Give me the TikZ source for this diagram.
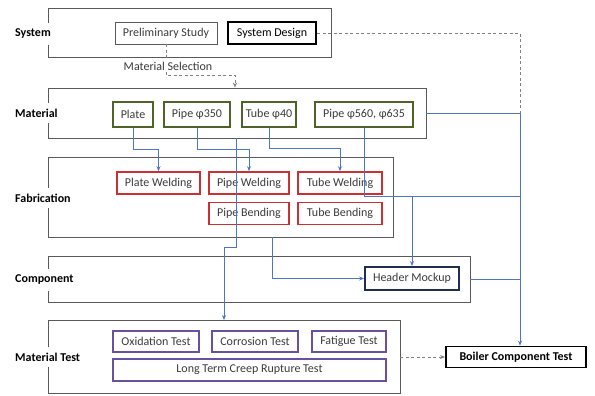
\documentclass[tikz,border=0pt]{standalone}
\usepackage{fontspec}
\setmainfont{Carlito}
\usetikzlibrary{arrows.meta, positioning}
\definecolor{stageGray}{HTML}{5A5A5A}
\definecolor{matGreen}{HTML}{4F6228}
\definecolor{fabRed}{HTML}{CC3030}
\definecolor{testPurple}{HTML}{6A50A0}
\definecolor{hdrNavy}{HTML}{1F2E4E}
\definecolor{flowBlue}{HTML}{4A78C4}
\definecolor{dashGray}{HTML}{808080}
\definecolor{textGray}{HTML}{3A3A3A}

\begin{document}
\begin{tikzpicture}[
  x=1pt, y=-1pt,
  font=\fontsize{12}{14}\selectfont,
  stage/.style={draw=stageGray, line width=0.8pt},
  stagelabel/.style={fill=white, font=\fontsize{12}{14}\selectfont\bfseries,
               anchor=west, inner xsep=2pt, inner ysep=6pt},
  itembox/.style={line width=1.6pt, text=textGray, inner sep=2pt, minimum height=22pt},
  sysbox/.style={itembox, draw=stageGray, line width=0.8pt},
  keybox/.style={itembox, draw=black, line width=2pt, text=black},
  matbox/.style={itembox, draw=matGreen, minimum height=25pt},
  fabbox/.style={itembox, draw=fabRed, minimum width=82pt},
  testbox/.style={itembox, draw=testPurple, minimum height=21pt},
  flow/.style={-{Stealth[length=5pt, width=4pt]}, flowBlue, line width=0.9pt},
  blueline/.style={flowBlue, line width=0.9pt},
  dashline/.style={dashGray, dash pattern=on 3pt off 2.5pt, line width=0.9pt},
  dashflow/.style={dashline, -{Stealth[length=5pt, width=4pt]}}
]
  \useasboundingbox (0,0) rectangle (595,396);

  % stages
  \node[stage, minimum width=283pt, minimum height=49pt] (sysStage) at (189.5,32.5) {};
  \node[stage, minimum width=378pt, minimum height=50pt] (matStage) at (237,113) {};
  \node[stage, minimum width=345pt, minimum height=80pt] (fabStage) at (220.5,197) {};
  \node[stage, minimum width=422pt, minimum height=46pt] (compStage) at (259,279) {};
  \node[stage, minimum width=352pt, minimum height=73pt] (testStage) at (224,356.5) {};

  \node[stagelabel] (sysLbl) at (13,34) {System};
  \node[stagelabel] (matLbl) at (13,113) {Material};
  \node[stagelabel] (fabLbl) at (13,198) {Fabrication};
  \node[stagelabel] (compLbl) at (13,280) {Component};
  \node[stagelabel] (testLbl) at (13,357) {Material Test};

  % system
  \node[sysbox, minimum width=102pt] (prelim) at (166,33) {Preliminary Study};
  \node[keybox, minimum width=88pt] (sysDesign) at (272,33.5) {System Design};

  % material
  \node[matbox, minimum width=40pt] (plate) at (133,114.5) {Plate};
  \node[matbox, minimum width=66pt] (pipeA) at (197,114.5) {Pipe φ350};
  \node[matbox, minimum width=54pt] (tube) at (269,114.5) {Tube φ40};
  \node[matbox, minimum width=98pt] (pipeB) at (364,114.5) {Pipe φ560, φ635};

  % fabrication
  \node[fabbox, minimum width=83pt] (plateW) at (158.5,183) {Plate Welding};
  \node[fabbox, minimum width=80pt] (pipeW) at (249,183) {Pipe Welding};
  \node[fabbox, minimum width=80pt, below=7pt of pipeW] (pipeBend) {Pipe Bending};
  \node[fabbox, minimum width=84pt] (tubeW) at (340,183) {Tube Welding};
  \node[fabbox, minimum width=84pt, below=7pt of tubeW] (tubeBend) {Tube Bending};

  % component
  \node[itembox, draw=hdrNavy, line width=1.8pt, minimum width=94pt, minimum height=23pt] (header) at (412,278.5) {Header Mockup};

  % material test
  \node[testbox, minimum width=86pt] (oxid) at (156,341.5) {Oxidation Test};
  \node[testbox, minimum width=86pt] (corr) at (255,341.5) {Corrosion Test};
  \node[testbox, minimum width=74pt] (fatig) at (349,341.5) {Fatigue Test};
  \node[testbox, minimum width=273pt, minimum height=22pt] (creep) at (249.5,370) {Long Term Creep Rupture Test};

  \node[keybox, line width=1.8pt, minimum width=140pt, minimum height=21pt,
        font=\fontsize{12}{14}\selectfont\bfseries] (boiler) at (516,357) {Boiler Component Test};

  % helper points
  \coordinate (selTurn) at (235,75);
  \coordinate (trunk) at (520,113);
  \coordinate (hdrSplit) at (412,196);
  \coordinate (matOut) at (236,138);
  \coordinate (testIn) at (224,320);
  \coordinate (fabOut) at (272,237);

  % connectors
  \draw[dashflow] (prelim.south) |- (selTurn) -- (selTurn |- matStage.north);
  \node[fill=white, inner sep=1pt, text=textGray] (selLbl) at (168,66) {Material Selection};
  \draw[dashline] (sysDesign.east) -| (trunk);

  \draw[flow] (matStage.east) -- (trunk) -- (trunk |- boiler.north);
  \draw[flow] (plate.south) -- ++(0,22) -| (plateW.north);
  \draw[flow] (pipeA.south) -- ++(0,22) -| (pipeW.north);
  \draw[flow] (tube.south) -- ++(0,21) -| (tubeW.north);
  \draw[blueline] (pipeB.south) |- (trunk |- hdrSplit);
  \draw[flow] (hdrSplit) -- (header.north);
  \draw[flow] (matOut) -- ++(0,109) -| (testIn);
  \draw[flow] (fabOut) |- (header.west);
  \draw[blueline] (compStage.east) -- (trunk |- compStage.east);
  \draw[dashflow] (testStage.east |- boiler.west) -- (boiler.west);
\end{tikzpicture}
\end{document}
